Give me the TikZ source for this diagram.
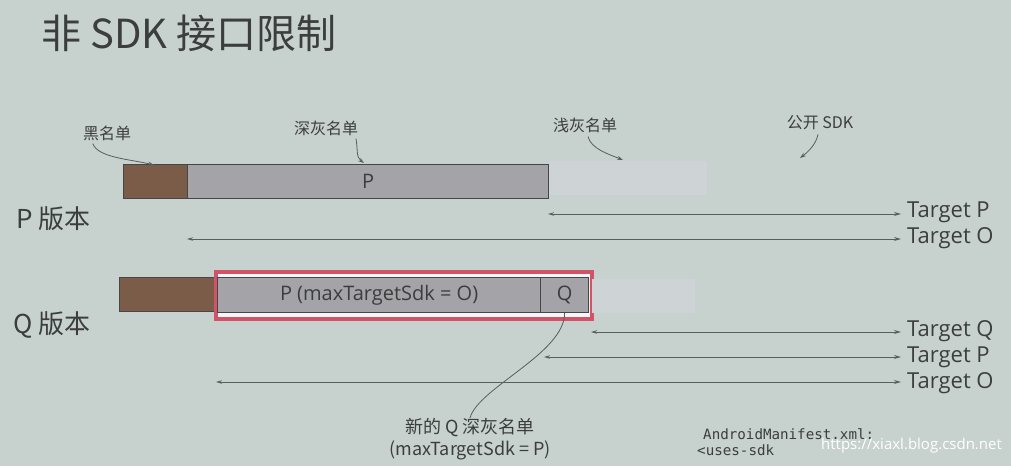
\documentclass[tikz,border=0pt]{standalone}
\usepackage{fontspec}
\setmainfont{Open Sans}
\setmonofont{DejaVu Sans Mono}
\newfontfamily\cjk{Noto Sans CJK SC}
\usetikzlibrary{arrows.meta}

\definecolor{fondo}{RGB}{199,209,206}
\definecolor{claro}{RGB}{206,211,213}
\definecolor{marron}{RGB}{122,92,72}
\definecolor{gris}{RGB}{164,163,168}
\definecolor{borde}{RGB}{70,70,72}
\definecolor{rojo}{RGB}{210,82,104}
\definecolor{texto}{RGB}{60,62,62}
\definecolor{linea}{RGB}{88,94,94}

\tikzset{
  etiqueta/.style={font=\cjk\fontsize{16}{19}\selectfont, text=texto, inner sep=0pt},
  version/.style={font=\cjk\fontsize{26}{29}\selectfont, text=texto, anchor=west, inner sep=0pt},
  target/.style={font=\fontsize{22}{25}\selectfont, text=texto, anchor=west, inner sep=0pt},
  barra/.style={draw=borde, line width=1.2pt, inner sep=0pt, anchor=north west, text=texto,
    font=\fontsize{20}{23}\selectfont},
  banda/.style={fill=claro, inner sep=0pt, anchor=north west},
  flecha/.style={{Stealth[length=6pt,width=3.5pt]}-{Stealth[length=7pt,width=4pt]}, draw=linea, line width=1pt, shorten >=6pt},
  curva/.style={-{Stealth[length=6pt,width=4pt]}, draw=linea, line width=0.8pt},
}

\begin{document}
\begin{tikzpicture}[x=1pt, y=-1pt]

\fill[fondo] (0,0) rectangle (1011,466);
\useasboundingbox (0,0) rectangle (1011,466);

% Titulo
\node[font=\cjk\fontsize{40}{44}\selectfont, text=texto, anchor=west, inner sep=0pt] (T) at (41,33) {非 SDK 接口限制};

% Etiquetas superiores
\node[etiqueta] (E1) at (107,133) {黑名单};
\node[etiqueta] (E2) at (326,128) {深灰名单};
\node[etiqueta] (E3) at (585,125) {浅灰名单};
\node[etiqueta] (E4) at (820,123) {公开 SDK};

% Version P
\node[barra, fill=marron, minimum width=64, minimum height=34] (N1) at (123,164) {};
\node[barra, fill=gris, minimum width=361, minimum height=34] (D1) at (187,164) {P};
\node[banda, minimum width=158, minimum height=34] (C1) at (549,161) {};
\node[version] (VP) at (16,219) {P 版本};

% Version Q
\node[barra, fill=marron, minimum width=96, minimum height=34] (N2) at (119,277) {};
\node[draw=rojo, line width=2.5pt, fill=white!80!claro, inner sep=0pt, anchor=north west,
  minimum width=375, minimum height=46] (R) at (215,271) {};
\node[barra, fill=gris, minimum width=323, minimum height=35] (D2) at (217,277) {P (maxTargetSdk = O)};
\node[barra, fill=gris, minimum width=48, minimum height=35] (D3) at (540,277) {Q};
\draw[rojo, line width=2.5pt] (R.north west) rectangle (R.south east);
\node[banda, minimum width=103, minimum height=34] (C2) at (592,279) {};
\node[version] (VQ) at (13,325) {Q 版本};

% Puntos de partida
\coordinate (A1) at (548,214);
\coordinate (A2) at (187,239);
\coordinate (A3) at (591,332);
\coordinate (A4) at (544,357);
\coordinate (A5) at (216,382);

% Etiquetas Target
\node[target] (TP1) at (907,212) {Target P};
\node[target] (TO1) at (907,238) {Target O};
\node[target] (TQ2) at (907,331) {Target Q};
\node[target] (TP2) at (907,357) {Target P};
\node[target] (TO2) at (907,383) {Target O};

% Rangos
\draw[flecha] (A1) -- (A1 -| TP1.west);
\draw[flecha] (A2) -- (A2 -| TO1.west);
\draw[flecha] (A3) -- (A3 -| TQ2.west);
\draw[flecha] (A4) -- (A4 -| TP2.west);
\draw[flecha] (A5) -- (A5 -| TO2.west);

% Flechas curvas de las etiquetas
\coordinate (F1) at (154,165);
\coordinate (F2) at (364,163);
\coordinate (F3) at (623,160);
\coordinate (F4) at (800,158);
\draw[curva] (E1.south west) ++(10,3) .. controls +(5,14) and +(-25,-6) .. (F1);
\draw[curva] (E2.south) ++(30,3) .. controls +(2,12) and +(-8,-6) .. (F2);
\draw[curva] (E3.south) ++(3,4) .. controls +(3,12) and +(-15,-6) .. (F3);
\draw[curva] (E4.south) ++(-2,4) .. controls +(-2,10) and +(8,-6) .. (F4);

% Nueva lista gris oscuro de Q
\node[etiqueta, align=center, font=\cjk\fontsize{18}{22}\selectfont] (NQ) at (470,439)
  {新的 Q 深灰名单\\(maxTargetSdk = P)};
\draw[linea, line width=0.8pt] (D3.south) .. controls +(0,40) and +(8,-30) .. (NQ.north);

% Manifest
\node[font=\ttfamily\fontsize{14.2}{16}\selectfont, text=texto, anchor=west, inner sep=0pt] (M1) at (703,434) {AndroidManifest.xml:};
\node[font=\ttfamily\fontsize{14.2}{16}\selectfont, text=texto, anchor=west, inner sep=0pt] (M2) at (697,450) {<uses-sdk};

% Marca de agua
\node[font=\fontsize{15}{17}\selectfont, text=white, anchor=west, inner sep=0pt] (W) at (821,446) {https://xiaxl.blog.csdn.net};

\end{tikzpicture}
\end{document}
